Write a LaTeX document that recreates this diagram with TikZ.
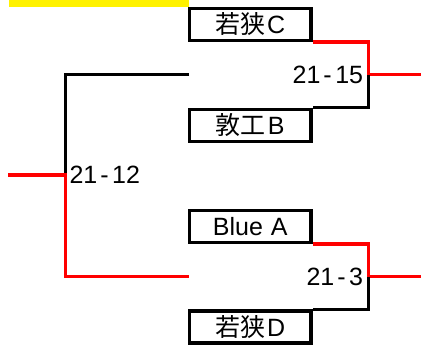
\documentclass[tikz,border=0pt]{standalone}
\usepackage{fontspec}
\setmainfont{Liberation Sans}
\newfontfamily\cjk{Noto Sans CJK JP}
\usepackage{tikz}

\newcommand{\dash}{\kern3pt-\kern3.5pt}

\begin{document}
\begin{tikzpicture}[x=1pt, y=-1pt,
    team/.style={draw, line width=3.4, minimum width=121.5pt, minimum height=32pt, inner sep=0pt, font=\fontsize{25}{30}\selectfont},
    score/.style={inner xsep=5pt, inner ysep=0pt, font=\fontsize{25}{30}\selectfont},
    lose/.style={line width=3.4, black},
    win/.style={line width=3.4, red}]

\useasboundingbox (0,0) rectangle (421,345);

% yellow strip at the top
\fill[yellow] (9,0) rectangle (188.5,7.3);

% team boxes

\node[team] (tC) at (250.25, 24.5) {{\cjk 若狭}\kern2pt C};
\node[team] (tB) at (250.25, 125.3) {{\cjk 敦工}\kern2pt B};
\node[team] (tA) at (250.25, 226.3) {Blue\kern1pt\ A};
\node[team] (tD) at (250.25, 327) {{\cjk 若狭}\kern2pt D};

% junctions and free ends

\coordinate (j1) at (368.3, 74.7);
\coordinate (j2) at (368.3, 276.5);
\coordinate (j0) at (65.3, 175);

\coordinate (e1) at (189, 74.7);
\coordinate (e2) at (189, 276.5);
\coordinate (in0) at (8, 175);
\coordinate (out1) at (421, 74.7);
\coordinate (out2) at (421, 276.5);

% scores

\node[score, anchor=east] (s1) at (j1) {21\dash15};
\node[score, anchor=east] (s2) at (j2) {21\dash3};
\node[score, inner xsep=4pt, anchor=west] (s0) at (j0) {21\dash12};

% first round
\draw[win] (tC.south east) -| (j1) -- (out1);
\draw[lose] (j1) |- (tB.north east);

\draw[win] (tA.south east) -| (j2) -- (out2);
\draw[lose] (j2) |- (tD.north east);

% second round
\draw[lose] (e1) -| (j0);
\draw[win] (in0) -- (j0) |- (e2);

\end{tikzpicture}
\end{document}
